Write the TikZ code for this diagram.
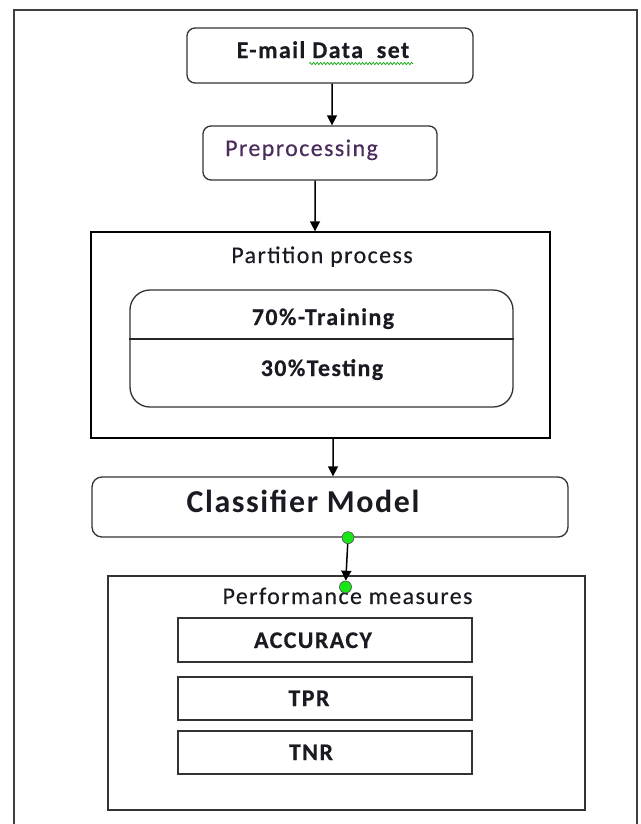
\documentclass[tikz,border=0pt]{standalone}
\usepackage{fontspec}
\setmainfont{Carlito}[LetterSpace=6, FakeBold=0.4]
\newfontfamily\bigfont{Carlito}[LetterSpace=5]
\usetikzlibrary{arrows.meta,decorations.pathmorphing}
\definecolor{ink}{HTML}{1A1A22}
\definecolor{prepink}{HTML}{4A2C5C}
\definecolor{dotgreen}{HTML}{19E619}
\tikzset{
  boxline/.style={draw=black!80, line width=1.3bp},
  rbox/.style={boxline, rounded corners=8bp, inner sep=0pt},
  sqbox/.style={boxline, inner sep=0pt},
  lbl/.style={inner sep=0pt, text=ink, font=\fontsize{24}{28}\selectfont},
  lblb/.style={inner sep=0pt, text=ink, font=\fontsize{24}{28}\selectfont\bfseries},
  arr/.style={line width=1.5bp, -{Triangle[length=10bp,width=10bp]}},
  dotnode/.style={circle, fill=dotgreen, draw=black!70, line width=0.6bp, minimum size=12bp, inner sep=0pt}
}
\begin{document}
\begin{tikzpicture}[x=1bp,y=-1bp]
  % page and outer frame
  \fill[white] (0,0) rectangle (641,824);
  \useasboundingbox (0,0) rectangle (641,824);
  \clip (0,0) rectangle (641,824);
  \draw[line width=1.6bp, black!75] (14,840) -- (14,10) -- (637,10) -- (637,840);

  % data set and preprocessing
  \node[rbox, minimum width=286bp, minimum height=55bp] (email) at (330,55.5) {};
  \node[lblb, anchor=base] (emailtxt) at (323,58) {E-mail Data\ \ set};
  \draw[green!65!black, line width=0.7bp, decorate,
        decoration={snake, amplitude=1.1bp, segment length=3.5bp}]
        (309,63.5) -- (413,63.5);

  \node[rbox, minimum width=234bp, minimum height=54bp] (prep) at (320,153) {};
  \node[lbl, text=prepink, anchor=base west] (preptxt) at (225,156) {Preprocessing};

  % partition stage
  \node[sqbox, draw=black, minimum width=459bp, minimum height=206bp] (part) at (320.5,335) {};
  \node[lbl, anchor=base] (parttxt) at (322,263) {Partition process};
  \node[boxline, rounded corners=20bp, minimum width=383bp, minimum height=117bp, inner sep=0pt] (split) at (321.5,348.5) {};
  \draw[line width=1.2bp, black!85] (split.west |- 0,339) -- (split.east |- 0,339);
  \node[lblb, anchor=base] (train) at (323,325) {70\%-Training};
  \node[lblb, anchor=base] (test) at (322,376) {30\%Testing};

  % classifier
  \node[rbox, rounded corners=10bp, minimum width=476bp, minimum height=60bp] (clf) at (330,507) {};
  \node[inner sep=0pt, text=ink, font=\bigfont\fontsize{32}{36}\selectfont\bfseries, anchor=base] (clftxt) at (303,512) {Classifier Model};

  % performance measures
  \node[sqbox, minimum width=477bp, minimum height=234bp] (perf) at (346.5,693) {};
  \node[lbl, anchor=base] (perftxt) at (347.5,604) {Performance measures};
  \node[sqbox, minimum width=294bp, minimum height=44bp] (acc) at (325,640) {};
  \node[sqbox, minimum width=294bp, minimum height=43bp] (tpr) at (325,698.5) {};
  \node[sqbox, minimum width=294bp, minimum height=43bp] (tnr) at (325,752.5) {};
  \node[lblb, anchor=base] (acctxt) at (313,648) {ACCURACY};
  \node[lblb, anchor=base] (tprtxt) at (309,706) {TPR};
  \node[lblb, anchor=base] (tnrtxt) at (311,760) {TNR};

  % connectors
  \draw[arr] ([xshift=2bp]email.south) -- ([xshift=12bp]prep.north);
  \draw[arr] ([xshift=-5bp]prep.south) -- ([xshift=-5.5bp]part.north);
  \draw[arr] ([xshift=12.5bp]part.south) -- ([xshift=3bp]clf.north);
  \node[dotnode] (d1) at ([xshift=18bp]clf.south) {};
  \node[dotnode] (d2) at (345.5,587) {};
  \draw[arr] (d1) -- (d2);
\end{tikzpicture}
\end{document}
